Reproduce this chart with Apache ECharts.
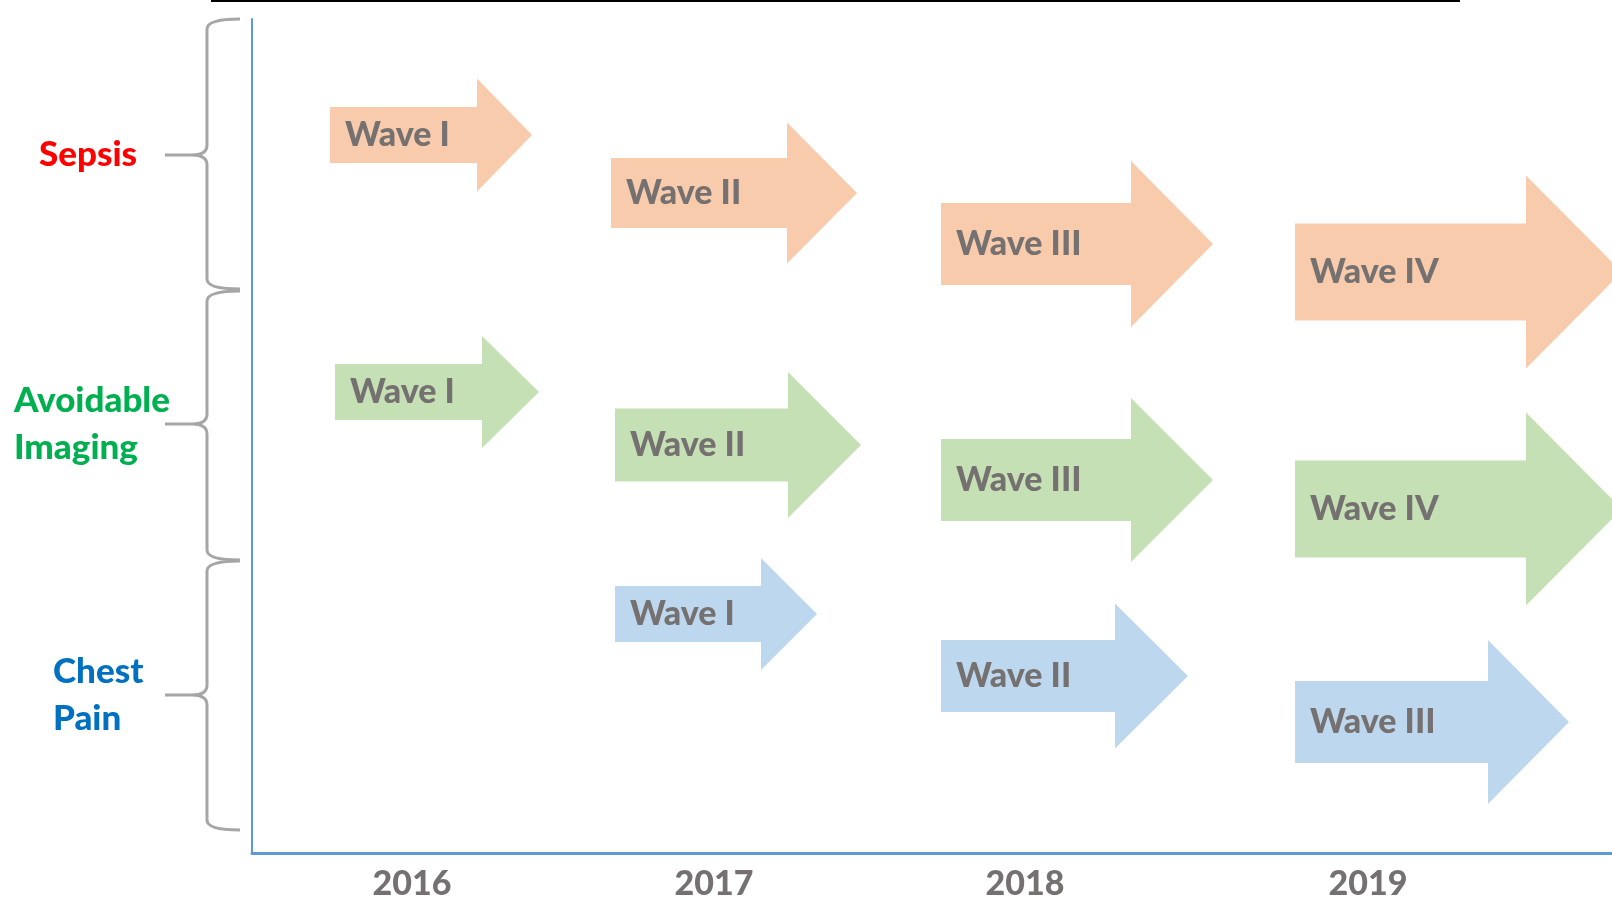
<!DOCTYPE html>
<html>
<head>
<meta charset="utf-8">
<script src="https://cdn.jsdelivr.net/npm/echarts@6/dist/echarts.min.js"></script>
<style>
  html, body { margin: 0; padding: 0; background: #fff; }
  #char { width: 1612px; height: 904px; }
</style>
</head>
<body>
<div id="char"></div>
<script>
// timeline axis: x runs 0..136, y runs 0..83.4 (top to bottom)
const years = ['2016', '2017', '2018', '2019'];
const yearPos = [16.0, 46.2, 77.3, 111.6];

const groups = ['Sepsis', 'Avoidable\nImaging', 'Chest\nPain'];
const groupColors = ['#FF0000', '#00B050', '#0070C0'];
const braceTop = [0, 27.2, 54.2];
const braceMid = [13.6, 40.5, 67.6];
const braceBottom = [27.0, 54.1, 81.1];

// arrows: start of shaft, end of shaft, tip, centre line, shaft height, head height
const sepsisWaves = ['Wave I', 'Wave II', 'Wave III', 'Wave IV'];
const sepsisStart = [7.8, 35.9, 68.9, 104.3];
const sepsisShaft = [22.5, 53.5, 87.9, 127.4];
const sepsisTip = [28.0, 60.5, 96.1, 137.0];
const sepsisY = [11.6, 17.4, 22.5, 25.3];
const sepsisBody = [5.6, 7.0, 8.2, 9.7];
const sepsisHead = [11.3, 14.1, 16.6, 19.3];

const imagingWaves = ['Wave I', 'Wave II', 'Wave III', 'Wave IV'];
const imagingStart = [8.3, 36.3, 68.9, 104.3];
const imagingShaft = [23.0, 53.6, 87.9, 127.4];
const imagingTip = [28.7, 60.9, 96.1, 137.0];
const imagingY = [37.3, 42.6, 46.1, 49.0];
const imagingBody = [5.6, 7.3, 8.2, 9.7];
const imagingHead = [11.2, 14.6, 16.4, 19.3];

const chestWaves = ['Wave I', 'Wave II', 'Wave III'];
const chestStart = [36.3, 68.9, 104.3];
const chestShaft = [50.9, 86.3, 123.6];
const chestTip = [56.5, 93.6, 131.7];
const chestY = [59.5, 65.7, 70.3];
const chestBody = [5.6, 7.2, 8.2];
const chestHead = [11.2, 14.5, 16.4];

const textGray = '#767171';
const labelFont = '900 34px Lato, "Open Sans", sans-serif';
// left edge of the group names, relative to the plot's left edge
const groupLabelLeft = [-213, -238, -199];

function arrowData(names, start, shaft, tip, y, body, head) {
  return names.map(function (n, i) {
    return [start[i], shaft[i], tip[i], y[i], body[i], head[i], n];
  });
}

function renderArrow(fill) {
  return function (params, api) {
    const x0 = api.value(0), x1 = api.value(1), x2 = api.value(2);
    const cy = api.value(3), bh = api.value(4) / 2, hh = api.value(5) / 2;
    const pts = [
      api.coord([x0, cy - bh]),
      api.coord([x1, cy - bh]),
      api.coord([x1, cy - hh]),
      api.coord([x2, cy]),
      api.coord([x1, cy + hh]),
      api.coord([x1, cy + bh]),
      api.coord([x0, cy + bh])
    ];
    const mid = api.coord([x0, cy]);
    return {
      type: 'group',
      children: [
        { type: 'polygon', shape: { points: pts }, style: { fill: fill } },
        {
          type: 'text',
          x: mid[0] + 15,
          y: mid[1],
          style: {
            text: api.value(6),
            fill: textGray,
            font: labelFont,
            align: 'left', textAlign: 'left',
            verticalAlign: 'middle', textVerticalAlign: 'middle'
          }
        }
      ]
    };
  };
}

function renderBrace(params, api) {
  const left = params.coordSys.x;
  const top = api.coord([0, api.value(1)])[1];
  const mid = api.coord([0, api.value(0)])[1];
  const bottom = api.coord([0, api.value(2)])[1];
  const ex = left - 12, vx = left - 45, tx = left - 87, r = 10;
  const d = 'M' + ex + ' ' + top +
    ' Q' + vx + ' ' + top + ' ' + vx + ' ' + (top + r) +
    ' L' + vx + ' ' + (mid - r) +
    ' Q' + vx + ' ' + mid + ' ' + (vx - r * 1.5) + ' ' + mid +
    ' L' + tx + ' ' + mid +
    ' M' + (vx - r * 1.5) + ' ' + mid +
    ' Q' + vx + ' ' + mid + ' ' + vx + ' ' + (mid + r) +
    ' L' + vx + ' ' + (bottom - r) +
    ' Q' + vx + ' ' + bottom + ' ' + ex + ' ' + bottom;
  const i = params.dataIndex;
  return {
    type: 'group',
    children: [
      { type: 'path', shape: { pathData: d }, style: { stroke: '#A6A6A6', lineWidth: 3, fill: null } },
      {
        type: 'text',
        x: left + groupLabelLeft[i],
        y: mid,
        style: {
          text: groups[i],
          fill: groupColors[i],
          font: '900 35px Lato, "Open Sans", sans-serif',
          lineHeight: 47,
          align: 'left', textAlign: 'left',
          verticalAlign: 'middle', textVerticalAlign: 'middle'
        }
      }
    ]
  };
}

const myChart = echarts.init(document.getElementById('char'), null, { renderer: 'canvas' });
const option = {
  animation: false,
  backgroundColor: '#fff',
  grid: { left: 252, right: 0, top: 19, bottom: 51 },
  xAxis: {
    type: 'value',
    position: 'bottom',
    min: 0,
    max: 136,
    axisLine: { show: true, onZero: false, lineStyle: { color: '#5B9BD5', width: 3 } },
    axisTick: { show: false },
    splitLine: { show: false },
    axisLabel: {
      customValues: yearPos,
      formatter: function (v) { return years[yearPos.indexOf(v)]; },
      color: textGray,
      fontFamily: 'Lato, "Open Sans", sans-serif',
      fontWeight: 900,
      fontSize: 34,
      margin: 14
    }
  },
  yAxis: {
    type: 'value',
    inverse: true,
    min: 0,
    max: 83.4,
    axisLine: { show: true, onZero: false, lineStyle: { color: '#5B9BD5', width: 2 } },
    axisTick: { show: false },
    axisLabel: { show: false },
    splitLine: { show: false }
  },
  graphic: [
    { type: 'line', shape: { x1: 211, y1: 1, x2: 1460, y2: 1 }, style: { stroke: '#000', lineWidth: 2 } }
  ],
  series: [
    {
      type: 'custom', name: 'Sepsis', silent: true,
      renderItem: renderArrow('#F8CBAD'),
      encode: { x: [0, 1, 2], y: 3 },
      data: arrowData(sepsisWaves, sepsisStart, sepsisShaft, sepsisTip, sepsisY, sepsisBody, sepsisHead)
    },
    {
      type: 'custom', name: 'Avoidable Imaging', silent: true,
      renderItem: renderArrow('#C5E0B4'),
      encode: { x: [0, 1, 2], y: 3 },
      data: arrowData(imagingWaves, imagingStart, imagingShaft, imagingTip, imagingY, imagingBody, imagingHead)
    },
    {
      type: 'custom', name: 'Chest Pain', silent: true,
      renderItem: renderArrow('#BDD7EE'),
      encode: { x: [0, 1, 2], y: 3 },
      data: arrowData(chestWaves, chestStart, chestShaft, chestTip, chestY, chestBody, chestHead)
    },
    {
      type: 'custom', name: 'groups', silent: true,
      renderItem: renderBrace,
      encode: { y: [0, 1, 2] },
      data: groups.map(function (g, i) { return [braceMid[i], braceTop[i], braceBottom[i]]; })
    }
  ]
};
myChart.setOption(option);
</script>
</body>
</html>
